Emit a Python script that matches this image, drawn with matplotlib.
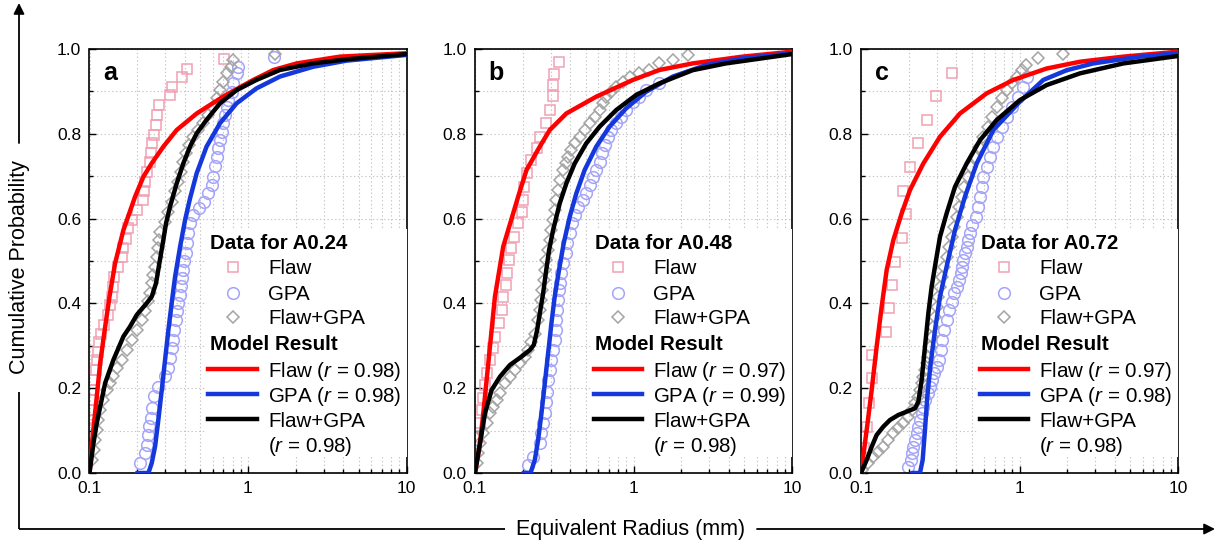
import matplotlib
matplotlib.use("Agg")
import matplotlib.pyplot as plt
from matplotlib.ticker import FixedLocator, MultipleLocator, LogLocator, NullFormatter, FixedFormatter
from matplotlib.patches import Rectangle

plt.rcParams['font.family'] = ['Liberation Sans', 'DejaVu Sans']
plt.rcParams['mathtext.fontset'] = 'custom'
plt.rcParams['mathtext.it'] = 'Liberation Sans:italic'
plt.rcParams['mathtext.rm'] = 'Liberation Sans'

# ---------------- text / labels ----------------
panel_letters = ['a', 'b', 'c']
sample_names = ['A0.24', 'A0.48', 'A0.72']
r_flaw = ['0.98', '0.97', '0.97']
r_gpa = ['0.98', '0.99', '0.98']
r_both = ['0.98', '0.98', '0.98']
x_ticks = [0.1, 1, 10]
x_tick_labels = ['0.1', '1', '10']
y_ticks = [0.0, 0.2, 0.4, 0.6, 0.8, 1.0]
y_tick_labels = ['0.0', '0.2', '0.4', '0.6', '0.8', '1.0']
x_label = 'Equivalent Radius (mm)'
y_label = 'Cumulative Probability'

# ---------------- panel a data ----------------
flaw_x_a = [0.1007, 0.1022, 0.1032, 0.1042, 0.1057, 0.1073, 0.1094, 0.111, 0.1137, 0.1148,
            0.1182, 0.124, 0.1315, 0.1347, 0.138, 0.1413, 0.1434, 0.152, 0.1596, 0.1635,
            0.169, 0.1741, 0.1845, 0.1984, 0.2186, 0.222, 0.224, 0.2295, 0.241, 0.243,
            0.2466, 0.2553, 0.2615, 0.2654, 0.2745, 0.322, 0.330, 0.3815, 0.410, 0.709]
flaw_y_a = [0.105, 0.125, 0.149, 0.172, 0.196, 0.219, 0.243, 0.267, 0.286, 0.310,
            0.329, 0.349, 0.373, 0.396, 0.416, 0.439, 0.463, 0.487, 0.510, 0.530,
            0.553, 0.577, 0.597, 0.620, 0.644, 0.666, 0.687, 0.711, 0.734, 0.754,
            0.778, 0.797, 0.821, 0.844, 0.868, 0.892, 0.911, 0.933, 0.954, 0.976]
gpa_x_a = [0.2085, 0.2244, 0.2298, 0.2354, 0.2388, 0.2436, 0.247, 0.2556, 0.272, 0.2998,
           0.3147, 0.322, 0.330, 0.338, 0.343, 0.350, 0.355, 0.364, 0.373, 0.376,
           0.382, 0.387, 0.395, 0.407, 0.415, 0.421, 0.431, 0.452, 0.49, 0.528, 0.562,
           0.590, 0.605, 0.619, 0.635, 0.650, 0.666, 0.682, 0.699, 0.716, 0.734,
           0.752, 0.789, 0.808, 0.848, 0.869, 1.458]
gpa_y_a = [0.024, 0.047, 0.067, 0.090, 0.110, 0.130, 0.153, 0.181, 0.204, 0.228,
           0.247, 0.271, 0.295, 0.314, 0.338, 0.361, 0.381, 0.401, 0.420, 0.440,
           0.460, 0.479, 0.499, 0.518, 0.542, 0.566, 0.589, 0.609, 0.625, 0.640, 0.660,
           0.680, 0.699, 0.723, 0.746, 0.766, 0.786, 0.805, 0.825, 0.844, 0.864,
           0.880, 0.899, 0.919, 0.943, 0.958, 0.982]
both_x_a = [0.1034, 0.106, 0.1086, 0.1112, 0.1139, 0.1167, 0.1225, 0.1286, 0.135, 0.1416,
            0.1487, 0.160, 0.172, 0.185, 0.1988, 0.2137, 0.2244, 0.2354, 0.241, 0.247,
            0.253, 0.259, 0.2657, 0.2696, 0.2748, 0.2788, 0.2998, 0.3147, 0.330, 0.3467,
            0.364, 0.376, 0.391, 0.407, 0.427, 0.452, 0.486, 0.523, 0.562, 0.599,
            0.635, 0.666, 0.699, 0.734, 0.778, 0.808, 1.48]
both_y_a = [0.031, 0.055, 0.0786, 0.102, 0.126, 0.149, 0.173, 0.196, 0.212, 0.228,
            0.247, 0.267, 0.291, 0.314, 0.338, 0.361, 0.381, 0.4046, 0.424, 0.448,
            0.467, 0.487, 0.5106, 0.530, 0.550, 0.5695, 0.593, 0.6166, 0.640, 0.664,
            0.687, 0.711, 0.7345, 0.754, 0.774, 0.793, 0.809, 0.825, 0.844, 0.864,
            0.884, 0.903, 0.923, 0.943, 0.958, 0.974, 0.988]
model_flaw_x_a = [0.1, 0.105, 0.1112, 0.1167, 0.125, 0.1337, 0.1451, 0.1637, 0.194, 0.219,
                  0.247, 0.2927, 0.355, 0.475, 0.699, 1.08, 1.445, 2.03, 3.8, 10]
model_flaw_y_a = [0.0, 0.09, 0.181, 0.259, 0.34, 0.416, 0.495, 0.573, 0.652, 0.699,
                  0.7305, 0.770, 0.809, 0.848, 0.888, 0.927, 0.9505, 0.966, 0.982, 0.990]
model_gpa_x_a = [0.1988, 0.2354, 0.2470, 0.2594, 0.272, 0.2857, 0.2998, 0.3147, 0.330, 0.3467,
                 0.373, 0.401, 0.431, 0.4745, 0.548, 0.666, 0.848, 1.13, 1.59, 2.57, 4.18, 10]
model_gpa_y_a = [0.0, 0.0, 0.0236, 0.063, 0.126, 0.196, 0.267, 0.338, 0.401, 0.463,
                 0.534, 0.597, 0.648, 0.707, 0.770, 0.825, 0.872, 0.907, 0.935, 0.958, 0.9725, 0.986]
model_both_x_a = [0.1, 0.106, 0.1112, 0.1255, 0.1416, 0.1637, 0.1804, 0.1988, 0.2298, 0.247,
                  0.263, 0.276, 0.290, 0.304, 0.322, 0.355, 0.391, 0.431, 0.4745, 0.548,
                  0.666, 0.848, 1.13, 1.59, 2.57, 4.18, 10]
model_both_y_a = [0.0, 0.0707, 0.118, 0.212, 0.267, 0.322, 0.3456, 0.373, 0.4006, 0.416,
                  0.448, 0.495, 0.542, 0.589, 0.628, 0.683, 0.7305, 0.770, 0.801, 0.833,
                  0.872, 0.903, 0.927, 0.9505, 0.966, 0.9757, 0.988]

# ---------------- panel b data ----------------
flaw_x_b = [0.1049, 0.1075, 0.1102, 0.1129, 0.1157, 0.1185, 0.1243, 0.1305, 0.1337, 0.1424,
            0.1473, 0.151, 0.1568, 0.160, 0.1646, 0.1687, 0.176, 0.1877, 0.197, 0.200,
            0.205, 0.2118, 0.2245, 0.245, 0.257, 0.2805, 0.2974, 0.312, 0.312, 0.315, 0.340]
flaw_y_b = [0.0857, 0.117, 0.1486, 0.176, 0.2075, 0.235, 0.2665, 0.294, 0.3215, 0.353,
            0.384, 0.416, 0.443, 0.471, 0.502, 0.530, 0.557, 0.589, 0.616, 0.645,
            0.675, 0.707, 0.738, 0.766, 0.793, 0.825, 0.856, 0.888, 0.915, 0.941, 0.970]
gpa_x_b = [0.2165, 0.2328, 0.2564, 0.2626, 0.269, 0.2757, 0.2796, 0.285, 0.2892, 0.2963,
           0.3035, 0.311, 0.3184, 0.323, 0.326, 0.3297, 0.334, 0.339, 0.3425, 0.351,
           0.3595, 0.3735, 0.381, 0.396, 0.411, 0.4256, 0.4467, 0.480, 0.5036, 0.5286,
           0.555, 0.5825, 0.611, 0.635, 0.657, 0.690, 0.724, 0.778, 0.8367, 0.899,
           0.990, 1.09, 1.20, 1.457]
gpa_y_b = [0.019, 0.0385, 0.070, 0.0936, 0.117, 0.1407, 0.168, 0.192, 0.219, 0.243,
           0.2665, 0.290, 0.3137, 0.337, 0.361, 0.3844, 0.408, 0.4316, 0.447, 0.471,
           0.4945, 0.518, 0.5417, 0.565, 0.589, 0.6085, 0.628, 0.644, 0.660, 0.679,
           0.699, 0.7146, 0.734, 0.754, 0.7736, 0.793, 0.809, 0.8247, 0.840, 0.856,
           0.876, 0.8876, 0.903, 0.919]
both_x_b = [0.1024, 0.1049, 0.1075, 0.1128, 0.1184, 0.1243, 0.1304, 0.1369, 0.1436, 0.1544,
            0.166, 0.1785, 0.192, 0.2063, 0.2165, 0.2272, 0.2384, 0.2502, 0.2564, 0.260,
            0.2665, 0.2716, 0.2769, 0.2823, 0.2892, 0.2963, 0.3035, 0.311, 0.3184, 0.326,
            0.334, 0.3425, 0.3595, 0.3735, 0.3864, 0.4055, 0.4256, 0.457, 0.492, 0.5286,
            0.568, 0.611, 0.641, 0.673, 0.724, 0.778, 0.857, 0.944, 1.09, 1.26,
            1.457, 1.77, 2.196]
both_y_b = [0.0228, 0.0464, 0.070, 0.0936, 0.117, 0.1407, 0.1565, 0.172, 0.188, 0.2115,
            0.227, 0.243, 0.2586, 0.274, 0.290, 0.3097, 0.329, 0.361, 0.384, 0.408,
            0.4316, 0.455, 0.479, 0.502, 0.526, 0.5495, 0.573, 0.5967, 0.620, 0.644,
            0.6675, 0.691, 0.7146, 0.730, 0.746, 0.762, 0.7775, 0.793, 0.809, 0.8247,
            0.840, 0.856, 0.872, 0.8876, 0.899, 0.911, 0.923, 0.935, 0.9426, 0.950,
            0.966, 0.974, 0.986]
model_flaw_x_b = [0.1, 0.1075, 0.1128, 0.1213, 0.1336, 0.1507, 0.1873, 0.2113, 0.2564, 0.2963,
                  0.377, 0.5825, 0.990, 1.457, 2.36, 4.87, 10]
model_flaw_y_b = [0.0, 0.070, 0.1407, 0.2586, 0.416, 0.534, 0.652, 0.7146, 0.770, 0.809,
                  0.848, 0.8876, 0.927, 0.9505, 0.966, 0.982, 0.9937]
model_gpa_x_b = [0.2014, 0.224, 0.2384, 0.2502, 0.2626, 0.2757, 0.2892, 0.3035, 0.3184, 0.339,
                 0.3628, 0.396, 0.4359, 0.4917, 0.5825, 0.7063, 0.899, 1.20, 1.77, 2.86, 4.87, 10]
model_gpa_y_b = [0.0, 0.0, 0.0307, 0.078, 0.1407, 0.2115, 0.282, 0.353, 0.416, 0.479,
                 0.5417, 0.6045, 0.6596, 0.7146, 0.770, 0.817, 0.860, 0.899, 0.935, 0.962, 0.978, 0.990]
model_both_x_b = [0.1, 0.1075, 0.1156, 0.1273, 0.1436, 0.166, 0.1966, 0.2218, 0.235, 0.2466,
                  0.2564, 0.269, 0.2796, 0.2934, 0.311, 0.3425, 0.377, 0.4256, 0.5036, 0.611,
                  0.778, 1.039, 1.457, 2.36, 3.83, 10]
model_both_y_b = [0.0, 0.070, 0.1407, 0.1958, 0.227, 0.2547, 0.2744, 0.290, 0.302, 0.337,
                  0.3766, 0.4237, 0.471, 0.526, 0.573, 0.636, 0.683, 0.730, 0.7775, 0.8168,
                  0.856, 0.8915, 0.919, 0.950, 0.966, 0.988]

# ---------------- panel c data ----------------
flaw_x_c = [0.1044, 0.1096, 0.1123, 0.1168, 0.1179, 0.143, 0.1502, 0.156, 0.1638, 0.1823,
            0.1923, 0.1832, 0.2038, 0.2298, 0.2593, 0.2959, 0.3766]
flaw_y_c = [0.058, 0.109, 0.166, 0.223, 0.278, 0.333, 0.388, 0.443, 0.498, 0.555,
            0.611, 0.666, 0.7225, 0.7775, 0.8325, 0.889, 0.944]
gpa_x_c = [0.1989, 0.2068, 0.2108, 0.2138, 0.2191, 0.2245, 0.2278, 0.2356, 0.2414, 0.2473,
           0.2533, 0.2633, 0.2724, 0.2791, 0.290, 0.3001, 0.3105, 0.3197, 0.326, 0.3357,
           0.347, 0.3593, 0.3733, 0.388, 0.4015, 0.4153, 0.4275, 0.4358, 0.4422, 0.453,
           0.4642, 0.4755, 0.4872, 0.499, 0.529, 0.550, 0.5633, 0.577, 0.5913, 0.6205,
           0.651, 0.684, 0.718, 0.7725, 0.830, 0.892, 0.983, 1.057, 1.11]
gpa_y_c = [0.0149, 0.0307, 0.0464, 0.062, 0.078, 0.0936, 0.109, 0.125, 0.1407, 0.1564,
           0.172, 0.188, 0.2036, 0.219, 0.235, 0.251, 0.2665, 0.290, 0.3137, 0.337,
           0.361, 0.385, 0.404, 0.424, 0.4395, 0.455, 0.471, 0.4866, 0.502, 0.518,
           0.534, 0.5495, 0.565, 0.585, 0.6045, 0.628, 0.652, 0.675, 0.699, 0.7225,
           0.746, 0.770, 0.793, 0.817, 0.840, 0.864, 0.8876, 0.911, 0.935]
both_x_c = [0.101, 0.1112, 0.1196, 0.1286, 0.1383, 0.1487, 0.160, 0.172, 0.185, 0.1989,
            0.2088, 0.2191, 0.2278, 0.2356, 0.2414, 0.2473, 0.2533, 0.2596, 0.266, 0.2724,
            0.2791, 0.2859, 0.293, 0.3001, 0.3075, 0.315, 0.326, 0.3357, 0.347, 0.3593,
            0.3733, 0.388, 0.4015, 0.4153, 0.4317, 0.4487, 0.471, 0.494, 0.524, 0.555,
            0.5913, 0.630, 0.674, 0.718, 0.7725, 0.830, 0.892, 0.960, 1.032, 1.10,
            1.315, 1.872]
both_y_c = [0.007, 0.0228, 0.0385, 0.050, 0.062, 0.078, 0.0936, 0.105, 0.117, 0.133,
            0.1486, 0.164, 0.180, 0.196, 0.2115, 0.227, 0.243, 0.2586, 0.2744, 0.298,
            0.3215, 0.345, 0.3687, 0.392, 0.416, 0.4395, 0.463, 0.4866, 0.510, 0.534,
            0.557, 0.581, 0.6045, 0.628, 0.652, 0.675, 0.699, 0.7225, 0.746, 0.770,
            0.793, 0.817, 0.840, 0.864, 0.8836, 0.903, 0.919, 0.9347, 0.950, 0.962,
            0.978, 0.988]
model_flaw_x_c = [0.1, 0.1086, 0.1168, 0.1255, 0.135, 0.1452, 0.160, 0.1806, 0.2038, 0.2473,
                  0.315, 0.4214, 0.6205, 0.914, 1.484, 2.41, 4.52, 10]
model_flaw_y_c = [0.0, 0.1014, 0.1958, 0.298, 0.392, 0.479, 0.5495, 0.6124, 0.6675, 0.730,
                  0.793, 0.848, 0.8954, 0.927, 0.954, 0.970, 0.982, 0.9937]
model_gpa_x_c = [0.2088, 0.2356, 0.2449, 0.2533, 0.262, 0.275, 0.293, 0.315, 0.3506, 0.3918,
                 0.453, 0.537, 0.684, 1.007, 1.413, 1.985, 2.92, 5.76, 10]
model_gpa_y_c = [0.0, 0.0, 0.0307, 0.1014, 0.180, 0.2586, 0.337, 0.416, 0.4945, 0.573,
                 0.652, 0.730, 0.809, 0.876, 0.927, 0.950, 0.966, 0.982, 0.990]
model_both_x_c = [0.1, 0.1086, 0.1168, 0.1255, 0.1383, 0.1523, 0.172, 0.1941, 0.2191, 0.23,
                  0.2414, 0.2533, 0.266, 0.2791, 0.2974, 0.315, 0.347, 0.3918, 0.4642, 0.5633,
                  0.718, 1.007, 1.484, 2.41, 4.52, 10]
model_both_y_c = [0.0, 0.0307, 0.062, 0.0896, 0.1093, 0.125, 0.1368, 0.1447, 0.1525, 0.168,
                  0.219, 0.298, 0.3766, 0.4395, 0.502, 0.557, 0.6124, 0.675, 0.730, 0.785,
                  0.8325, 0.8797, 0.915, 0.9426, 0.966, 0.9835]

panels = [
    (flaw_x_a, flaw_y_a, gpa_x_a, gpa_y_a, both_x_a, both_y_a,
     model_flaw_x_a, model_flaw_y_a, model_gpa_x_a, model_gpa_y_a, model_both_x_a, model_both_y_a),
    (flaw_x_b, flaw_y_b, gpa_x_b, gpa_y_b, both_x_b, both_y_b,
     model_flaw_x_b, model_flaw_y_b, model_gpa_x_b, model_gpa_y_b, model_both_x_b, model_both_y_b),
    (flaw_x_c, flaw_y_c, gpa_x_c, gpa_y_c, both_x_c, both_y_c,
     model_flaw_x_c, model_flaw_y_c, model_gpa_x_c, model_gpa_y_c, model_both_x_c, model_both_y_c),
]

# ---------------- style ----------------
c_sq = '#f0a0b4'
c_ci = '#a4a4fa'
c_di = '#a4a4a4'
c_red = '#ff0000'
c_blue = '#1438dc'
c_black = '#000000'
grid_col = '#c4c4c4'

W, H = 1218, 545
fig = plt.figure(figsize=(W / 100, H / 100), dpi=100)
fig.patch.set_facecolor('white')

lefts = [89.5, 475, 861]
ax_w, ax_h, ax_bottom = 317, 424, 72

sq_kw = dict(marker='s', ms=7.6, mfc='none', mec=c_sq, mew=1.1, ls='none')
ci_kw = dict(marker='o', ms=8.4, mfc='none', mec=c_ci, mew=1.1, ls='none')
di_kw = dict(marker='D', ms=6.6, mfc='none', mec=c_di, mew=1.1, ls='none')

for i, data in enumerate(panels):
    (fx, fy, gx, gy, bx, by, mfx, mfy, mgx, mgy, mbx, mby) = data
    ax = fig.add_axes([lefts[i] / W, ax_bottom / H, ax_w / W, ax_h / H])
    ax.set_xscale('log')
    ax.set_xlim(0.1, 10)
    ax.set_ylim(0, 1.0)
    ax.set_axisbelow(True)

    ax.xaxis.set_major_locator(FixedLocator(x_ticks))
    ax.xaxis.set_major_formatter(FixedFormatter(x_tick_labels))
    ax.xaxis.set_minor_locator(LogLocator(base=10, subs=[2, 3, 4, 5, 6, 7, 8, 9]))
    ax.xaxis.set_minor_formatter(NullFormatter())
    ax.yaxis.set_major_locator(FixedLocator(y_ticks))
    ax.yaxis.set_major_formatter(FixedFormatter(y_tick_labels))
    ax.yaxis.set_minor_locator(MultipleLocator(0.1))

    ax.grid(True, which='both', color=grid_col, linestyle=(0, (1.2, 2.2)), linewidth=0.8)
    ax.tick_params(which='both', direction='in', top=False, right=False, width=1.0,
                   labelsize=12.5, colors='black')
    ax.tick_params(which='major', length=5, pad=6)
    ax.tick_params(which='minor', length=3)
    for s in ax.spines.values():
        s.set_linewidth(1.2)

    ax.plot(fx, fy, zorder=2, **sq_kw)
    ax.plot(gx, gy, zorder=2, **ci_kw)
    ax.plot(bx, by, zorder=2, **di_kw)
    ax.plot(mfx, mfy, color=c_red, lw=3.2, zorder=3, solid_capstyle='round', solid_joinstyle='round')
    ax.plot(mgx, mgy, color=c_blue, lw=3.2, zorder=3, solid_capstyle='round', solid_joinstyle='round')
    ax.plot(mbx, mby, color=c_black, lw=3.2, zorder=3, solid_capstyle='round', solid_joinstyle='round')

    # panel letter
    ax.text(0.043, 0.927, panel_letters[i], transform=ax.transAxes, fontsize=18,
            fontweight='bold', ha='left', va='baseline', zorder=6)

    # legend box
    ax.add_patch(Rectangle((0.367, 0.038), 0.633, 0.537, transform=ax.transAxes,
                           facecolor='white', edgecolor='none', zorder=4))
    fs = 14.8
    dy = 0.0175
    x_head, x_mark, x_text = 0.380, 0.4517, 0.563
    ax.text(x_head, 0.5455 - dy, 'Data for ' + sample_names[i], transform=ax.transAxes,
            fontsize=fs, fontweight='bold', ha='left', va='baseline', zorder=6)
    rows = [(0.486, 'Flaw', sq_kw), (0.425, 'GPA', ci_kw), (0.368, 'Flaw+GPA', di_kw)]
    for yy, lab, kw in rows:
        ax.plot([x_mark], [yy], transform=ax.transAxes, clip_on=False, zorder=6, **kw)
        ax.text(x_text, yy - dy, lab, transform=ax.transAxes, fontsize=fs,
                ha='left', va='baseline', zorder=6)
    ax.text(x_head, 0.3066 - dy, 'Model Result', transform=ax.transAxes,
            fontsize=fs, fontweight='bold', ha='left', va='baseline', zorder=6)
    lrows = [(0.245, 'Flaw ($r$ = %s)' % r_flaw[i], c_red),
             (0.186, 'GPA ($r$ = %s)' % r_gpa[i], c_blue),
             (0.127, 'Flaw+GPA', c_black)]
    for yy, lab, col in lrows:
        ax.plot([0.374, 0.528], [yy, yy], transform=ax.transAxes, color=col, lw=3.2,
                clip_on=False, zorder=6)
        ax.text(x_text, yy - dy, lab, transform=ax.transAxes, fontsize=fs,
                ha='left', va='baseline', zorder=6)
    ax.text(x_text, 0.066 - dy, '($r$ = %s)' % r_both[i], transform=ax.transAxes,
            fontsize=fs, ha='left', va='baseline', zorder=6)

# ---------------- outer axis arrows ----------------
ov = fig.add_axes([0, 0, 1, 1], zorder=-1)
ov.set_xlim(0, W)
ov.set_ylim(H, 0)
ov.axis('off')
ov.patch.set_alpha(0)
ax_x = 19
ax_y = 529
ov.plot([ax_x, ax_x], [ax_y, 392], color='black', lw=1.3, solid_capstyle='butt')
ov.plot([ax_x, 505], [ax_y, ax_y], color='black', lw=1.3, solid_capstyle='butt')
ov.annotate('', xy=(ax_x, 3), xytext=(ax_x, 143),
            arrowprops=dict(arrowstyle='-|>', color='black', lw=1.3, mutation_scale=16,
                            shrinkA=0, shrinkB=0))
ov.annotate('', xy=(1215, ax_y), xytext=(757, ax_y),
            arrowprops=dict(arrowstyle='-|>', color='black', lw=1.3, mutation_scale=16,
                            shrinkA=0, shrinkB=0))
ov.text(ax_x + 1, 267, y_label, rotation=90, ha='center', va='center', fontsize=15.5)
ov.text(631, ax_y, x_label, ha='center', va='center', fontsize=15.5)

fig.savefig('out.png', dpi=100, facecolor='white')
